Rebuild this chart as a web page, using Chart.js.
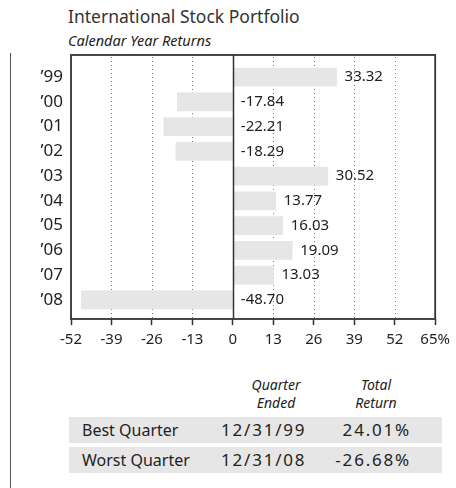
<!DOCTYPE html>
<html>
<head>
<meta charset="utf-8">
<script src="https://cdn.jsdelivr.net/npm/chart.js@4/dist/chart.umd.min.js"></script>
<style>
  html, body { margin: 0; padding: 0; background: #fff; }
  #wrap { position: relative; width: 456px; height: 488px; overflow: hidden; font-family: "Noto Sans", sans-serif; color: #222; }
  #title { position: absolute; left: 68px; top: 5px; font-size: 17.5px; line-height: 22px; color: #333; white-space: nowrap; }
  #subtitle { position: absolute; left: 68px; top: 31px; font-size: 14.5px; line-height: 18px; font-style: italic; color: #222; white-space: nowrap; }
  #vline { position: absolute; left: 10px; top: 53px; width: 1px; height: 435px; background: #555; }
  #chart { position: absolute; left: 0; top: 0; }
  .hdr { position: absolute; font-size: 14px; line-height: 18px; font-style: italic; text-align: center; width: 80px; color: #222; }
  .row { position: absolute; left: 69px; width: 373px; height: 26px; background: #e6e6e6; }
  .cell { position: absolute; top: 0; line-height: 26px; white-space: nowrap; color: #222; }
  .lbl { left: 13px; font-size: 16px; }
  .date { left: 152px; font-size: 17px; letter-spacing: 1.8px; }
  .ret { right: 31px; font-size: 17px; letter-spacing: 1.8px; }
</style>
</head>
<body>
<div id="wrap">
  <div id="title"></div>
  <div id="subtitle"></div>
  <div id="vline"></div>
  <canvas id="chart" width="456" height="360"></canvas>
  <div id="table"></div>
</div>
<script>
// ---- data ----
const chartTitle = "International Stock Portfolio";
const chartSubtitle = "Calendar Year Returns";
const years = ["\u201999", "\u201900", "\u201901", "\u201902", "\u201903", "\u201904", "\u201905", "\u201906", "\u201907", "\u201908"];
const returns = [33.32, -17.84, -22.21, -18.29, 30.52, 13.77, 16.03, 19.09, 13.03, -48.70];
const xTicks = [-52, -39, -26, -13, 0, 13, 26, 39, 52, 65];
const tableHeaders = [["Quarter", "Ended"], ["Total", "Return"]];
const quarterLabels = ["Best Quarter", "Worst Quarter"];
const quarterEnded = ["12/31/99", "12/31/08"];
const quarterReturns = ["24.01%", "-26.68%"];

document.getElementById('title').textContent = chartTitle;
document.getElementById('subtitle').textContent = chartSubtitle;

// ---- table ----
const table = document.getElementById('table');
const hdrCenters = [276, 376];
tableHeaders.forEach((h, i) => {
  const d = document.createElement('div');
  d.className = 'hdr';
  d.style.left = (hdrCenters[i] - 40) + 'px';
  d.style.top = '376px';
  d.innerHTML = h.join('<br>');
  table.appendChild(d);
});
const rowTops = [417, 447];
quarterLabels.forEach((lbl, i) => {
  const r = document.createElement('div');
  r.className = 'row';
  r.style.top = rowTops[i] + 'px';
  const a = document.createElement('div'); a.className = 'cell lbl'; a.textContent = lbl;
  const b = document.createElement('div'); b.className = 'cell date'; b.textContent = quarterEnded[i];
  const c = document.createElement('div'); c.className = 'cell ret'; c.textContent = quarterReturns[i];
  r.appendChild(a); r.appendChild(b); r.appendChild(c);
  table.appendChild(r);
});

// ---- chart ----
const FONT = '"Noto Sans", sans-serif';
const boxPlugin = {
  id: 'boxAndLabels',
  beforeDatasetsDraw(chart) {
    const { ctx, chartArea: a, scales: { x } } = chart;
    ctx.save();
    ctx.strokeStyle = '#777';
    ctx.lineWidth = 1;
    ctx.setLineDash([1, 3]);
    xTicks.forEach(v => {
      if (v === 0) return;
      const px = Math.round(x.getPixelForValue(v)) + 0.5;
      ctx.beginPath();
      ctx.moveTo(px, a.top + 2);
      ctx.lineTo(px, a.bottom);
      ctx.stroke();
    });
    ctx.restore();
  },
  afterDatasetsDraw(chart) {
    const { ctx, chartArea: a, scales: { x, y } } = chart;
    ctx.save();
    const zx = Math.round(x.getPixelForValue(0)) + 0.5;
    ctx.strokeStyle = '#333';
    ctx.lineWidth = 1.5;
    ctx.beginPath();
    ctx.moveTo(zx, a.top);
    ctx.lineTo(zx, a.bottom);
    ctx.stroke();
    ctx.font = '15px ' + FONT;
    ctx.fillStyle = '#222';
    ctx.textBaseline = 'middle';
    ctx.textAlign = 'left';
    returns.forEach((v, i) => {
      const px = x.getPixelForValue(Math.max(v, 0)) + 8;
      const py = y.getPixelForValue(i);
      ctx.fillText(v.toFixed(2), px, py);
    });
    ctx.restore();
  },
  afterDraw(chart) {
    const { ctx, chartArea: a } = chart;
    ctx.save();
    ctx.strokeStyle = '#333';
    ctx.lineWidth = 1.8;
    ctx.strokeRect(a.left, a.top, a.right - a.left, a.bottom - a.top);
    ctx.restore();
  }
};

new Chart(document.getElementById('chart'), {
  type: 'bar',
  data: {
    datasets: [{
      data: returns.map((v, i) => ({ x: v, y: i })),
      backgroundColor: '#e6e6e6',
      borderWidth: 0,
      barThickness: 18
    }]
  },
  options: {
    indexAxis: 'y',
    responsive: false,
    animation: false,
    events: [],
    layout: { padding: { top: 55, right: 17, left: 0, bottom: 11 } },
    plugins: { legend: { display: false }, tooltip: { enabled: false }, title: { display: false } },
    scales: {
      x: {
        type: 'linear',
        min: -52,
        max: 65,
        afterBuildTicks: s => { s.ticks = xTicks.map(v => ({ value: v })); },
        afterFit: s => { s.height = 30; },
        ticks: {
          autoSkip: false,
          maxRotation: 0,
          padding: 6,
          color: '#222',
          font: { family: FONT, size: 15 },
          callback: v => (v === xTicks[xTicks.length - 1] ? v + '%' : String(v))
        },
        grid: {
          display: true,
          drawOnChartArea: false,
          drawTicks: true,
          tickLength: 6,
          tickColor: '#333',
          tickWidth: 1.5
        },
        border: { display: false }
      },
      y: {
        type: 'linear',
        reverse: true,
        offset: false,
        grace: 0,
        min: -0.892,
        max: 9.77,
        afterBuildTicks: s => { s.ticks = years.map((_, i) => ({ value: i })); },
        afterFit: s => { s.width = 71; },
        ticks: {
          autoSkip: false,
          padding: 8,
          color: '#222',
          font: { family: FONT, size: 17 },
          callback: v => years[v]
        },
        grid: { display: false, drawTicks: false, offset: false },
        border: { display: false }
      }
    }
  },
  plugins: [boxPlugin]
});
</script>
</body>
</html>
